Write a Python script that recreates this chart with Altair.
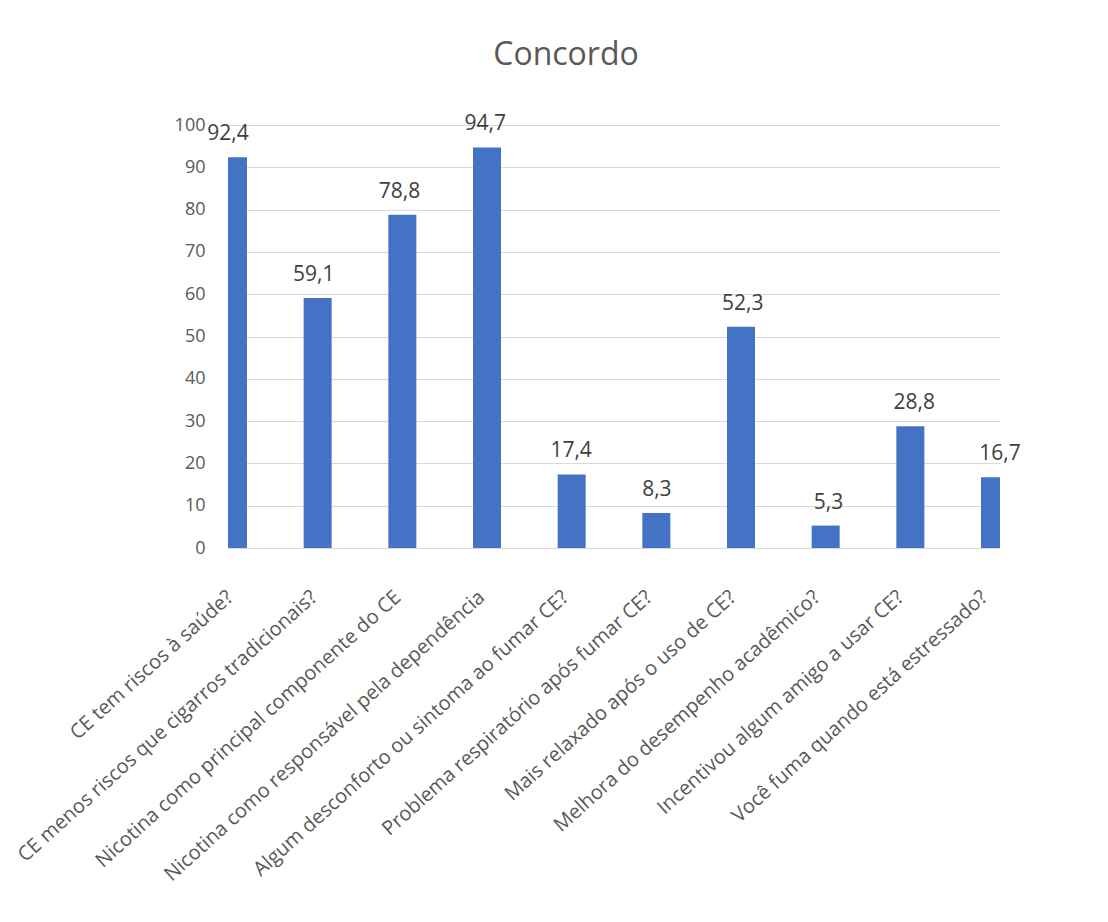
import altair as alt
import pandas as pd

categories = [
    "CE tem riscos à saúde?",
    "CE menos riscos que cigarros tradicionais?",
    "Nicotina como principal componente do CE",
    "Nicotina como responsável pela dependência",
    "Algum desconforto ou sintoma ao fumar CE?",
    "Problema respiratório após fumar CE?",
    "Mais relaxado após o uso de CE?",
    "Melhora do desempenho acadêmico?",
    "Incentivou algum amigo a usar CE?",
    "Você fuma quando está estressado?",
]
values = [92.4, 59.1, 78.8, 94.7, 17.4, 8.3, 52.3, 5.3, 28.8, 16.7]
y_ticks = list(range(0, 101, 10))

df = pd.DataFrame({
    "idx": list(range(len(categories))),
    "cat": categories,
    "val": values,
    "lbl": [f"{v:.1f}".replace(".", ",") for v in values],
})

label_map = "{" + ",".join(f'"{i}":"{c}"' for i, c in enumerate(categories)) + "}"

FONT = "Open Sans"
GREY = "#595959"

bar_scale = alt.Scale(domain=[0, len(categories) - 1], nice=False, zero=False)
y = alt.Y(
    "val:Q",
    scale=alt.Scale(domain=[0, 100], nice=False),
    axis=alt.Axis(
        values=y_ticks,
        labelFontSize=18,
        labelFont=FONT,
        labelColor=GREY,
        labelPadding=23,
        ticks=False,
        domain=False,
        gridColor="#d9d9d9",
        gridWidth=1.2,
        title=None,
    ),
)

bars = alt.Chart(df).mark_bar(color="#4472C4", width=28, clip=True).encode(
    x=alt.X("idx:Q", scale=bar_scale, axis=None), y=y
)
text = alt.Chart(df).mark_text(
    dy=-23, fontSize=21, font=FONT, color="#404040", baseline="middle"
).encode(x=alt.X("idx:Q", scale=bar_scale, axis=None), y=y, text="lbl:N")

# category labels (slightly tighter spacing than bars, as in the source)
labels_axis = alt.Chart(df).mark_point(opacity=0).encode(
    x=alt.X(
        "idx:Q",
        scale=alt.Scale(domain=[-0.024, 9.189], nice=False, zero=False),
        axis=alt.Axis(
            orient="bottom",
            values=list(range(len(categories))),
            labelExpr=f"{label_map}[datum.value]",
            labelAngle=-42,
            labelAlign="right",
            labelBaseline="middle",
            labelPadding=46,
            labelFontSize=20,
            labelFont=FONT,
            labelColor=GREY,
            labelLimit=600,
            labelOverlap=False,
            labelFlush=False,
            ticks=False,
            domain=False,
            grid=False,
            title=None,
        ),
    ),
    y=y,
)

chart = (
    alt.layer(bars, text, labels_axis)
    .resolve_scale(x="independent")
    .properties(
        width=772,
        height=423,
        title=alt.TitleParams(
            "Concordo",
            fontSize=32,
            font=FONT,
            fontWeight="normal",
            color=GREY,
            anchor="middle",
            dx=-48,
            offset=41,
        ),
        autosize=alt.AutoSizeParams(type="none"),
        padding={"left": 228, "top": 125, "right": 108, "bottom": 374},
        background="white",
    )
    .configure_view(stroke=None)
)

chart.save("out.html", embed_options={"renderer": "svg", "actions": False})
